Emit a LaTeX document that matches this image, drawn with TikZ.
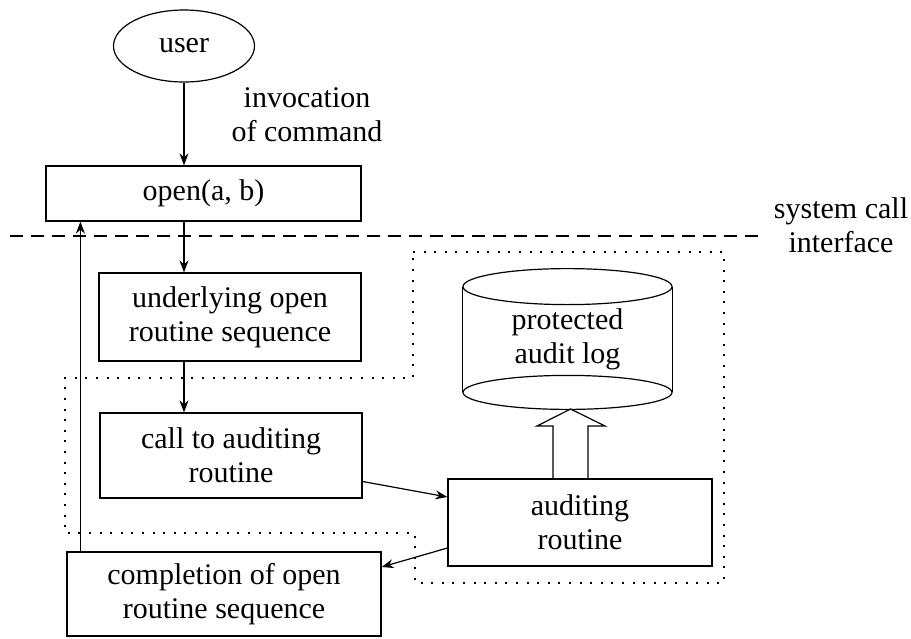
\documentclass[tikz,border=0pt]{standalone}
\usepackage{fontspec}
\setmainfont{Liberation Serif}
\usetikzlibrary{arrows.meta,shapes.geometric}

\begin{document}
\begin{tikzpicture}[x=0.5pt,y=-0.5pt,
        every node/.style={font=\fontsize{15}{17}\selectfont},
        box/.style={draw, rectangle, align=center, inner sep=0pt, line width=0.6pt},
        arr/.style={-{Stealth[length=6pt,width=4.5pt]}, line width=0.6pt},
        kernel/.style={dash pattern=on 1pt off 4.3pt, line width=0.7pt},
        interface/.style={dash pattern=on 6.5pt off 4pt, line width=0.6pt}]
        \useasboundingbox (0,0) rectangle (911,638);

        % ~~~~ User / command ~~~~ %
        \node[ellipse, draw, line width=0.6pt, inner sep=0pt,
            minimum width=70.5pt, minimum height=36pt] (user) at (184,46) {user};
        \node[align=center] (invoc) at (307,115) {invocation\\of command};
        \node[box, minimum width=157.5pt, minimum height=27.5pt] (open) at (203.5,193.5) {open(a, b)};

        % ~~~~ System call interface ~~~~ %
        \draw[interface] (10,236) -- (760,236);
        \node[align=center] (sci) at (841,225) {system call\\interface};
        \draw[kernel] (413,252) -- (724,252) -- (724,583) -- (415,583) -- (415,533)
            -- (65,533) -- (65,378) -- (413,378) -- cycle;

        % ~~~~ Routines ~~~~ %
        \node[box, minimum width=131pt, minimum height=44pt] (under) at (230,317)
            {underlying open\\routine sequence};
        \node[box, minimum width=131pt, minimum height=42.5pt] (call) at (231,455.5)
            {call to auditing\\routine};
        \node[box, minimum width=157pt, minimum height=42pt] (compl) at (224,594)
            {completion of open\\routine sequence};
        \node[box, minimum width=132pt, minimum height=43.5pt] (audit) at (580,522.5)
            {auditing\\routine};

        % ~~~~ Audit log ~~~~ %
        \node[align=center, inner sep=0pt, minimum width=104.5pt, minimum height=52.5pt]
            (log) at (567.5,339.5) {protected\\audit log};
        \draw[line width=0.6pt] (log.north) ellipse (52.25pt and 9pt);
        \draw[line width=0.6pt] (log.south) ellipse (52.25pt and 8.5pt);
        \draw[line width=0.6pt] (log.north west) -- (log.south west);
        \draw[line width=0.6pt] (log.north east) -- (log.south east);
        \draw[line width=0.6pt] (553,479) -- (553,426) -- (537,426) -- (570.5,409)
            -- (605,426) -- (588,426) -- (588,479);

        % ~~~~ Flow ~~~~ %
        \draw[arr] (user.south) -- (user.south |- open.north);
        \draw[arr] (user.south |- open.south) -- (user.south |- under.north);
        \draw[arr] (user.south |- under.south) -- (user.south |- call.north);
        \draw[arr] ([yshift=-13pt]call.east) -- ([yshift=12.75pt]audit.west);
        \draw[arr] ([yshift=-12.75pt]audit.west) -- ([yshift=13.5pt]compl.east);
        \draw[arr] ([xshift=7pt]compl.north west) -- ([xshift=7pt]compl.north west |- open.south);
    \end{tikzpicture}
\end{document}
